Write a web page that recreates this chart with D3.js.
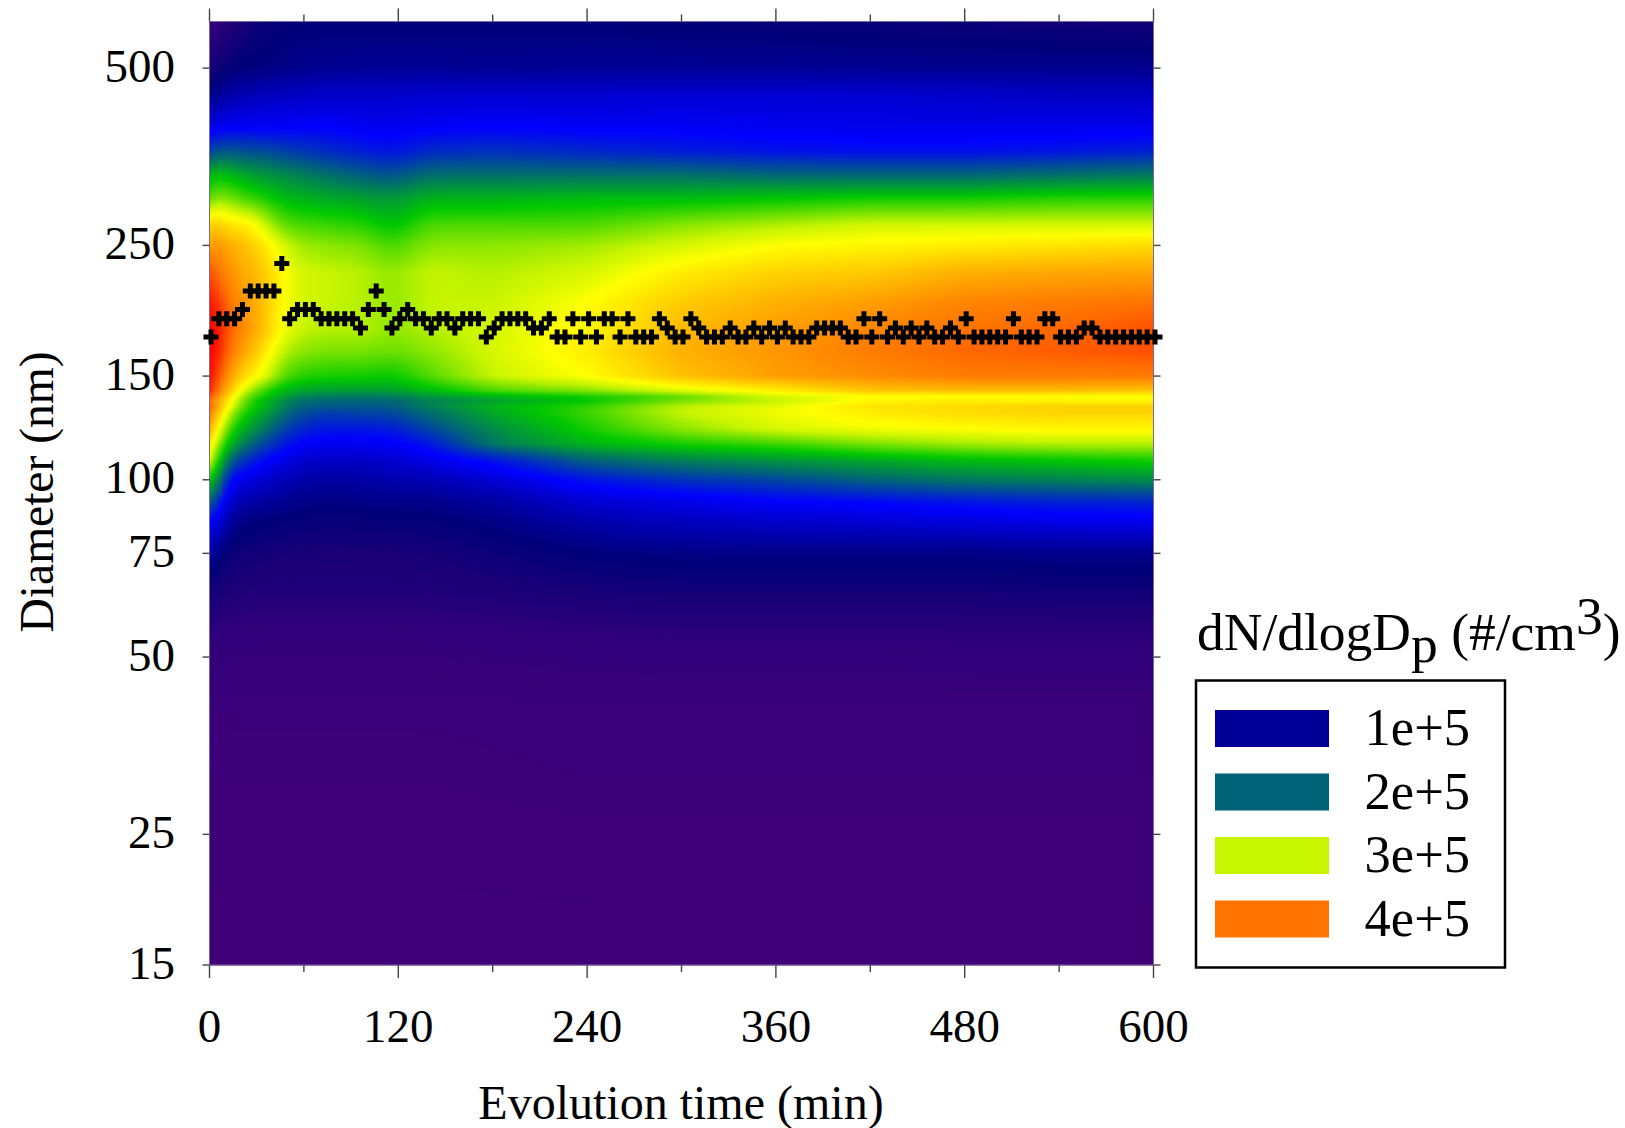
<!DOCTYPE html>
<html><head><meta charset="utf-8">
<script src="https://cdn.jsdelivr.net/npm/d3@7"></script>
<style>html,body{margin:0;padding:0;background:#fff}svg{display:block}text{font-family:"Liberation Serif","Times New Roman",serif;fill:#000}</style>
</head><body><svg id="chart" width="1625" height="1128"></svg>
<script>
// diameters (nm) of the rows of the grid, top to bottom
const diameters = [600,500,450,400,360,330,300,270,250,225,200,180,165,150,142,138.5,136,133.5,130,122,115,108,100,92,85,75,65,55,40,15];
// evolution times (min) of the columns of the grid
const times = [0,6,14,24,34,44,55,75,100,115,140,180,240,300,360,420,480,540,600];
// dN/dlogDp in units of 1e5 /cm3: one list per time, ordered as diameters
const c000 = [.30,.65,.93,1.35,1.85,2.40,2.75,3.45,3.75,4.15,4.40,4.50,4.50,4.45,4.35,4.15,3.95,4.10,3.95,3.65,3.35,3.05,2.50,2.00,1.50,1.05,.72,.45,.15,0];
const c006 = [.40,.78,1.00,1.40,1.95,2.45,2.85,3.50,3.80,4.00,4.25,4.40,4.35,4.15,3.95,3.80,3.70,3.65,3.50,3.15,2.85,2.55,2.15,1.70,1.35,.92,.66,.40,.12,0];
const c014 = [.55,.85,1.10,1.45,1.95,2.40,2.80,3.35,3.65,3.80,3.95,4.05,3.95,3.70,3.50,3.30,3.20,3.10,2.90,2.60,2.35,1.95,1.48,1.22,1.00,.75,.60,.38,.12,0];
const c024 = [.70,.88,1.15,1.45,1.90,2.30,2.65,3.30,3.55,3.65,3.75,3.80,3.65,3.35,2.95,2.75,2.65,2.60,2.50,2.30,2.05,1.72,1.38,1.10,.90,.72,.58,.36,.12,0];
const c034 = [.78,.90,1.18,1.45,1.90,2.25,2.60,3.10,3.35,3.55,3.60,3.60,3.40,3.15,2.70,2.55,2.45,2.45,2.35,2.12,1.85,1.55,1.27,1.05,.87,.70,.58,.35,.12,0];
const c044 = [.82,.92,1.20,1.45,1.85,2.20,2.45,2.75,3.10,3.25,3.25,3.20,3.00,2.75,2.45,2.35,2.25,2.22,2.12,1.90,1.68,1.42,1.20,1.00,.85,.68,.58,.35,.12,0];
const c055 = [.85,.95,1.22,1.47,1.80,2.15,2.40,2.70,2.90,3.05,3.05,3.00,2.85,2.60,2.35,2.18,2.05,2.00,1.90,1.70,1.50,1.30,1.10,.95,.82,.66,.58,.35,.12,0];
const c075 = [.85,.98,1.25,1.48,1.72,2.05,2.35,2.65,2.85,3.00,3.00,2.95,2.80,2.55,2.30,2.10,2.00,1.95,1.80,1.60,1.42,1.22,1.05,.90,.78,.65,.58,.35,.12,0];
const c100 = [.85,1.00,1.25,1.42,1.65,1.95,2.30,2.60,2.80,2.95,2.95,2.95,2.80,2.55,2.30,2.10,2.00,1.95,1.85,1.62,1.45,1.25,1.08,.93,.80,.65,.58,.35,.12,0];
const c115 = [.85,1.00,1.25,1.42,1.60,1.90,2.25,2.45,2.65,2.85,2.85,2.85,2.75,2.50,2.30,2.10,2.00,1.95,1.85,1.62,1.45,1.27,1.10,.95,.82,.66,.58,.35,.12,0];
const c140 = [.85,1.00,1.28,1.45,1.72,2.05,2.40,2.70,2.85,3.00,3.00,2.95,2.85,2.70,2.45,2.25,2.15,2.15,2.05,1.85,1.60,1.40,1.15,.95,.82,.68,.58,.36,.12,0];
const c180 = [.85,.98,1.28,1.48,1.75,2.05,2.40,2.70,2.85,2.95,3.00,3.05,3.05,3.00,2.70,2.40,2.30,2.40,2.35,2.20,2.10,1.60,1.30,1.05,.92,.75,.62,.38,.13,0];
const c240 = [.85,1.00,1.28,1.45,1.70,2.05,2.45,2.70,2.90,3.05,3.20,3.25,3.30,3.20,2.85,2.55,2.50,2.60,2.65,2.55,2.40,2.00,1.60,1.30,1.10,.87,.68,.42,.15,0];
const c300 = [.82,1.00,1.30,1.45,1.65,2.05,2.45,2.85,3.05,3.30,3.50,3.60,3.65,3.55,3.10,2.75,2.80,2.95,3.00,2.85,2.55,2.15,1.75,1.40,1.20,.92,.72,.45,.15,0];
const c360 = [.80,1.00,1.30,1.42,1.60,2.00,2.50,2.95,3.20,3.45,3.65,3.75,3.80,3.75,3.30,3.05,3.00,3.10,3.15,3.05,2.65,2.25,1.85,1.50,1.25,.92,.72,.45,.15,0];
const c420 = [.78,.98,1.28,1.40,1.58,2.00,2.55,3.05,3.25,3.50,3.75,3.90,3.95,3.85,3.55,3.20,3.25,3.35,3.30,3.15,2.80,2.35,2.00,1.55,1.30,.92,.72,.45,.15,0];
const c480 = [.75,.98,1.25,1.40,1.58,2.00,2.55,3.05,3.30,3.65,3.90,4.00,4.05,3.95,3.60,3.20,3.30,3.40,3.40,3.20,2.90,2.45,2.10,1.62,1.35,.92,.72,.46,.15,0];
const c540 = [.72,.97,1.22,1.40,1.62,2.05,2.60,3.05,3.35,3.70,3.95,4.05,4.10,3.95,3.60,3.20,3.25,3.45,3.45,3.25,2.95,2.50,2.15,1.68,1.40,.95,.74,.46,.15,0];
const c600 = [.70,.97,1.22,1.40,1.68,2.10,2.60,3.05,3.40,3.72,4.00,4.15,4.15,3.95,3.55,3.20,3.25,3.45,3.45,3.25,2.95,2.55,2.20,1.70,1.42,.95,.74,.46,.15,0];
const grid = [c000,c006,c014,c024,c034,c044,c055,c075,c100,c115,c140,c180,c240,c300,c360,c420,c480,c540,c600];
// colour ramp
const rampValues = [0,.4,.7,.85,1,1.5,2,2.5,3,3.2,4,4.5];
const rampColors = ["#400078","#30007a","#140078","#000078","#000096","#0000ff","#006478","#00c800","#c8f500","#ffff00","#ff7300","#ff0000"];
// mode diameter (nm) read every 5 min from 0 to 600
const modeBins = [174.7,181.1,187.7,194.6,201.7,209.1,216.7,224.7,232.9];
const modeLevel = [0,2,2,2,3,5,5,5,5,8,2,3,3,3,2,2,2,2,2,1,3,5,3,1,2,3,2,2,1,2,2,1,2,2,2,0,1,2,2,2,2,1,1,2,0,0,2,0,2,0,2,2,0,2,0,0,0,2,1,0,0,2,1,0,0,0,1,0,0,1,0,1,0,1,0,0,0,1,1,1,1,0,0,2,0,2,0,1,0,1,0,1,0,0,1,0,2,0,0,0,0,0,2,0,0,0,2,2,0,0,0,1,1,0,0,0,0,0,0,0,0];
const modeStep = 5;
const xTicks = [0,120,240,360,480,600];
const xMinor = [60,180,300,420,540];
const yTicks = [15,25,50,75,100,150,250,500];
const legendLabels = ["1e+5","2e+5","3e+5","4e+5"];
const legendColors = ["#000096","#006478","#c8f500","#ff7300"];

const L=209.5,R=1153.5,T=21.5,B=965;
const x=d3.scaleLinear().domain([0,600]).range([L,R]);
const y=d3.scaleLog().domain([15,600]).range([B,T]);
const color=d3.scaleLinear().domain(rampValues).range(rampColors).interpolate(d3.interpolateRgb).clamp(true);
const svg=d3.select("#chart");

// heat map: the grid, resampled per pixel, softened along time
const W=Math.round(R-L),H=Math.round(B-T);
const xs=times.map(x),ys=diameters.map(d=>y(d));
function seg(arr,v){let i=d3.bisectRight(arr,v)-1;i=Math.max(0,Math.min(arr.length-2,i));return [i,Math.max(0,Math.min(1,(v-arr[i])/(arr[i+1]-arr[i])))];}
let field=new Float32Array(W*H);
for(let j=0;j<H;j++){const [r,fr]=seg(ys,T+j+.5);
 for(let i=0;i<W;i++){const [c,fc]=seg(xs,L+i+.5);
  const a=grid[c][r]*(1-fc)+grid[c+1][r]*fc,b=grid[c][r+1]*(1-fc)+grid[c+1][r+1]*fc;
  field[j*W+i]=a*(1-fr)+b*fr;}}
function softenAlongTime(src){const out=new Float32Array(W*H);
 for(let j=0;j<H;j++)for(let i=0;i<W;i++){
  const rad=Math.min(i,W-1-i,Math.round(3+i/8),12);let s=0;
  for(let k=-rad;k<=rad;k++)s+=src[j*W+i+k];
  out[j*W+i]=s/(2*rad+1);}
 return out;}
field=softenAlongTime(softenAlongTime(field));
const cv=document.createElement("canvas");cv.width=W;cv.height=H;
const ctx=cv.getContext("2d");const img=ctx.createImageData(W,H);
for(let k=0;k<W*H;k++){const col=d3.rgb(color(field[k]));
 img.data[k*4]=col.r;img.data[k*4+1]=col.g;img.data[k*4+2]=col.b;img.data[k*4+3]=255;}
ctx.putImageData(img,0,0);
svg.append("image").attr("x",L).attr("y",T).attr("width",W).attr("height",H).attr("href",cv.toDataURL());

// frame and ticks
const tc="#444";
svg.append("rect").attr("x",L).attr("y",T).attr("width",R-L).attr("height",B-T).attr("fill","none").attr("stroke","#7a6a9a").attr("stroke-width",1);
function vt(vals,len){vals.forEach(v=>{
 svg.append("line").attr("x1",x(v)).attr("x2",x(v)).attr("y1",B).attr("y2",B+len).attr("stroke",tc).attr("stroke-width",1.4);
 svg.append("line").attr("x1",x(v)).attr("x2",x(v)).attr("y1",T).attr("y2",T-len).attr("stroke",tc).attr("stroke-width",1.4);});}
vt(xTicks,13);vt(xMinor,7);
yTicks.forEach(v=>{
 svg.append("line").attr("x1",L).attr("x2",L-7).attr("y1",y(v)).attr("y2",y(v)).attr("stroke",tc).attr("stroke-width",1.4);
 svg.append("line").attr("x1",R).attr("x2",R+7).attr("y1",y(v)).attr("y2",y(v)).attr("stroke",tc).attr("stroke-width",1.4);});

// tick labels
const fs=47;
svg.selectAll(".xl").data(xTicks).join("text").attr("class","xl").attr("x",d=>x(d)).attr("y",1042).attr("text-anchor","middle").attr("font-size",fs).text(d=>d);
svg.selectAll(".yl").data(yTicks).join("text").attr("class","yl").attr("x",175).attr("y",d=>y(d)+13.5).attr("text-anchor","end").attr("font-size",fs).text(d=>d);
svg.append("text").attr("x",681).attr("y",1119).attr("text-anchor","middle").attr("font-size",48).text("Evolution time (min)");
svg.append("text").attr("transform","translate(53,492) rotate(-90)").attr("text-anchor","middle").attr("font-size",47.5).text("Diameter (nm)");

// markers
const sym=d3.symbol().type(d3.symbolCross).size(125);
svg.append("g").selectAll("path").data(modeLevel).join("path")
 .attr("d",sym).attr("fill","#000")
 .attr("transform",(l,i)=>`translate(${x(i*modeStep)+1.5},${y(modeBins[l])})`);

// legend
const t=svg.append("text").attr("x",1197).attr("y",650).attr("font-size",53.5);
t.append("tspan").text("dN/dlogD");
t.append("tspan").attr("dy",12).text("p");
t.append("tspan").attr("dy",-12).text(" (#/cm");
t.append("tspan").attr("dy",-16).text("3");
t.append("tspan").attr("dy",16).text(")");
svg.append("rect").attr("x",1196).attr("y",680.5).attr("width",309).attr("height",287).attr("fill","#fff").attr("stroke","#000").attr("stroke-width",2.5);
const swY=d3.scaleLinear().domain([0,3]).range([710,900.5]);
legendLabels.forEach((s,i)=>{
 svg.append("rect").attr("x",1215).attr("y",swY(i)).attr("width",114).attr("height",37).attr("fill",legendColors[i]);
 svg.append("text").attr("x",1470).attr("y",swY(i)+35).attr("text-anchor","end").attr("font-size",52.5).text(s);
});
</script></body></html>
